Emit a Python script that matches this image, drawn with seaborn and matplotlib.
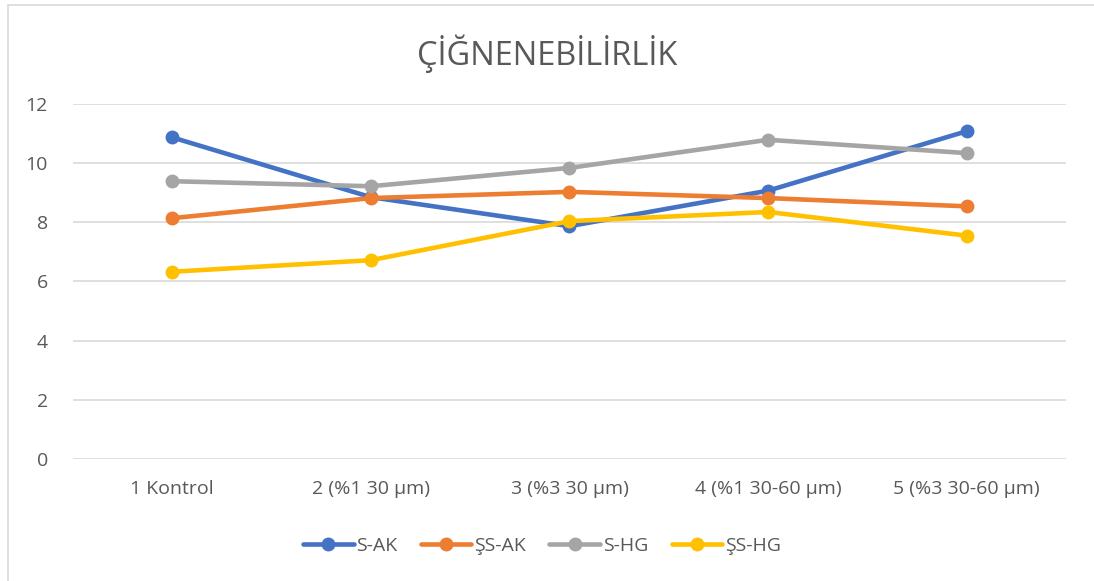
import matplotlib
matplotlib.use('Agg')
import matplotlib.pyplot as plt
import seaborn as sns
import pandas as pd
from matplotlib.patches import Rectangle

# Veriler
kategoriler = ['1 Kontrol', '2 (%1 30 µm)', '3 (%3 30 µm)', '4 (%1 30-60 µm)', '5 (%3 30-60 µm)']
s_ak = [10.87, 8.85, 7.87, 9.07, 11.08]
ss_ak = [8.14, 8.82, 9.03, 8.82, 8.54]
s_hg = [9.39, 9.22, 9.84, 10.79, 10.34]
ss_hg = [6.33, 6.72, 8.04, 8.35, 7.55]

seri_adlari = ['S-AK', 'ŞS-AK', 'S-HG', 'ŞS-HG']
renkler = ['#4472C4', '#ED7D31', '#A5A5A5', '#FFC000']

df = pd.DataFrame({
    'kategori': kategoriler * 4,
    'deger': s_ak + ss_ak + s_hg + ss_hg,
    'seri': sum([[ad] * len(kategoriler) for ad in seri_adlari], []),
})

sns.set_theme(style='white')
plt.rcParams['font.family'] = ['Open Sans', 'DejaVu Sans']
plt.rcParams['axes.unicode_minus'] = False

metin_rengi = '#595959'

fig = plt.figure(figsize=(10.94, 5.81), dpi=100)
ax = fig.add_axes([0.0667, 0.21, 0.9077, 0.611])

sns.lineplot(data=df, x='kategori', y='deger', hue='seri', hue_order=seri_adlari,
             palette=renkler, marker='o', markersize=10, markeredgewidth=0,
             linewidth=3.3, sort=False, ax=ax)

ax.set_xlim(-0.5, len(kategoriler) - 0.5)
ax.set_ylim(0, 12)
ax.set_yticks(range(0, 13, 2))
ax.yaxis.grid(True, color='#D9D9D9', linewidth=1.2)
ax.set_axisbelow(True)
for sp in ax.spines.values():
    sp.set_visible(False)
ax.tick_params(axis='both', length=0, labelsize=14, labelcolor=metin_rengi)
ax.tick_params(axis='y', pad=18)
ax.tick_params(axis='x', pad=15)
ax.set_xlabel('')
ax.set_ylabel('')

fig.suptitle('ÇİĞNENEBİLİRLİK', x=0.5, y=0.94, fontsize=23.5, color=metin_rengi)

handles, labels = ax.get_legend_handles_labels()
ax.legend(handles, labels, loc='center', bbox_to_anchor=(0.4955, 0.061),
          bbox_transform=fig.transFigure, ncol=4, frameon=False,
          fontsize=14, labelcolor=metin_rengi, handlelength=2.6,
          handletextpad=0.15, columnspacing=1.2)

# Grafik çerçevesi
fig.patches.append(Rectangle((8 / 1094, -0.1), 1.2, (581 - 5) / 581 + 0.1,
                             transform=fig.transFigure, fill=False,
                             edgecolor='#D9D9D9', linewidth=1.2))

fig.savefig('out.png', dpi=100)
